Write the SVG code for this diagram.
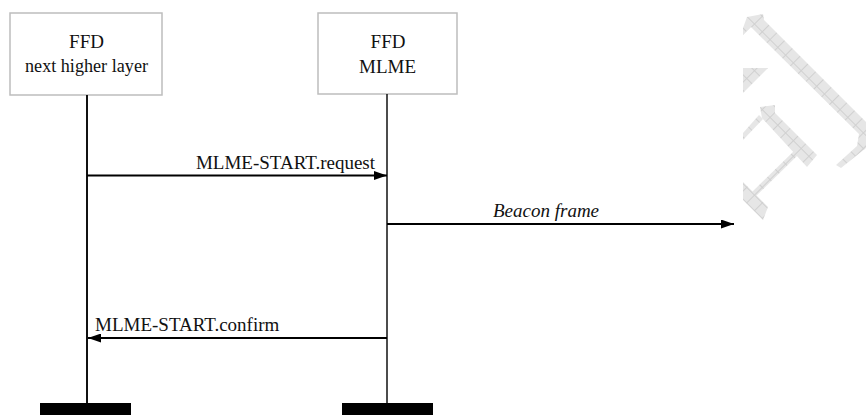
<svg xmlns="http://www.w3.org/2000/svg" width="866" height="415" viewBox="0 0 866 415">
<style>
  .box { fill: #ffffff; stroke: #bdbdbd; stroke-width: 1.5; }
  .t { font-family: 'Liberation Serif', 'Tinos', 'DejaVu Serif', serif; font-size: 19px; fill: #111; }
  .c { text-anchor: middle; }
  .life { stroke: #111; fill: none; }
  .bar { fill: #000; }
  .msg { stroke: #000; stroke-width: 2; fill: none; marker-end: url(#ah); }
  .wm { fill: url(#hatch); }
</style>
<defs>
  <marker id="ah" viewBox="0 0 13 9" refX="13" refY="4.5" markerWidth="13" markerHeight="9" orient="auto" markerUnits="userSpaceOnUse">
    <path d="M0,0 L13,4.5 L0,9 z" fill="#000"/>
  </marker>
  <pattern id="hatch" width="11" height="11" patternUnits="userSpaceOnUse" patternTransform="rotate(45)">
    <rect width="11" height="11" fill="#e6e6e6"/>
    <path d="M0,0.5 H11 M0.5,0 V11" stroke="#d0d0d0" stroke-width="1"/>
  </pattern>
</defs>

<g id="watermark">
  <polygon class="wm" points="743,28 747,17 763,14 764,20 866,122 866,148 841,168 836,165 857,146 859,134 751,27 743,35"/>
  <polygon class="wm" points="743,68 768,68 743,93"/>
  <polygon class="wm" points="760,107 775,105 775,113 817,155 807,167 762,118"/>
  <polygon class="wm" points="759,115 763,119 743,140 743,133"/>
  <polygon class="wm" points="795,150 799,154 755,197 751,193"/>
  <polygon class="wm" points="743,182 768,207 763,220 743,200"/>
</g>

<g id="node-nhl">
  <rect class="box" x="10" y="13" width="152" height="82"/>
  <text class="t c" x="86.5" y="48" font-family="Liberation Serif, serif">FFD</text>
  <text class="t c" x="86.5" y="72" textLength="123" lengthAdjust="spacingAndGlyphs" font-family="Liberation Serif, serif">next higher layer</text>
  <line class="life" x1="87" y1="95" x2="87" y2="404" stroke-width="2"/>
  <rect class="bar" x="40" y="403" width="91" height="12"/>
</g>

<g id="node-mlme">
  <rect class="box" x="318" y="13" width="139" height="81"/>
  <text class="t c" x="388" y="48" font-family="Liberation Serif, serif">FFD</text>
  <text class="t c" x="387.5" y="73" font-family="Liberation Serif, serif">MLME</text>
  <line class="life" x1="387" y1="94" x2="387" y2="404" stroke-width="1.5"/>
  <rect class="bar" x="342" y="403" width="91" height="12"/>
</g>

<g id="connectors">
  <line class="msg" x1="87" y1="175.5" x2="387" y2="175.5"/>
  <text class="t" x="375" y="169" text-anchor="end" font-family="Liberation Serif, serif">MLME-START.request</text>
  <line class="msg" x1="387" y1="224" x2="734" y2="224"/>
  <text class="t" x="493" y="217" font-style="italic" font-family="Liberation Serif, serif">Beacon frame</text>
  <line class="msg" x1="387" y1="338" x2="88" y2="338"/>
  <text class="t" x="95" y="331" font-family="Liberation Serif, serif">MLME-START.confirm</text>
</g>
</svg>
